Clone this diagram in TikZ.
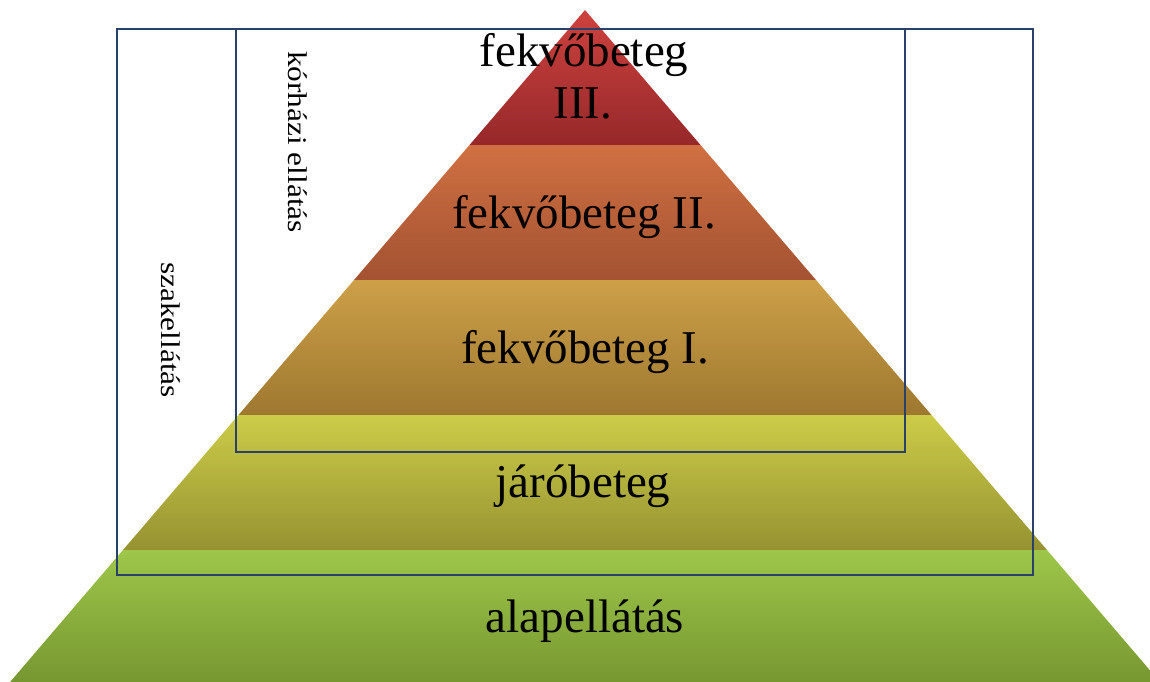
\documentclass[tikz,border=0pt]{standalone}
\usepackage{fontspec}
\setmainfont{Liberation Serif}
\definecolor{redT}{RGB}{205,66,62}
\definecolor{redB}{RGB}{150,40,42}
\definecolor{oraT}{RGB}{208,112,66}
\definecolor{oraB}{RGB}{163,82,50}
\definecolor{tanT}{RGB}{205,160,72}
\definecolor{tanB}{RGB}{158,120,48}
\definecolor{yelT}{RGB}{204,204,72}
\definecolor{yelB}{RGB}{150,146,50}
\definecolor{grnT}{RGB}{158,198,74}
\definecolor{grnB}{RGB}{118,150,48}
\definecolor{frame}{RGB}{42,66,106}
\tikzset{
  band/.style={draw=none},
  box/.style={draw=frame, line width=2.7pt},
  lbl/.style={font=\fontsize{47}{52}\selectfont, anchor=base, inner sep=0pt, text=black},
  vlbl/.style={font=\fontsize{27}{30}\selectfont, rotate=-90, inner sep=0pt}
}
\begin{document}
\begin{tikzpicture}[x=1pt,y=-1pt]
\useasboundingbox (0,0) rectangle (1150,681);
\begin{scope}
\clip (0,0) rectangle (1150,681);
\path[band, top color=redT, bottom color=redB] (585,10) -- (700.5,145) -- (469.5,145) -- cycle;
\path[band, top color=oraT, bottom color=oraB] (469.5,145) -- (700.5,145) -- (816,280) -- (354,280) -- cycle;
\path[band, top color=tanT, bottom color=tanB] (354,280) -- (816,280) -- (931.5,415) -- (238.5,415) -- cycle;
\path[band, top color=yelT, bottom color=yelB] (238.5,415) -- (931.5,415) -- (1047,550) -- (123,550) -- cycle;
\path[band, top color=grnT, bottom color=grnB] (123,550) -- (1047,550) -- (1162.5,685) -- (7.5,685) -- cycle;
\end{scope}
\draw[box] (117,29) rectangle (1033,575);
\draw[box] (236,29) rectangle (905,452);
\node[lbl] (l3a) at (584,66) {fekvőbeteg};
\node[lbl] (l3b) at (583,118) {III.};
\node[lbl] (l2) at (584,228) {fekvőbeteg II.};
\node[lbl] (l1) at (585,363) {fekvőbeteg I.};
\node[lbl] (lj) at (583,497) {járóbeteg};
\node[lbl] (la) at (585,632) {alapellátás};
\node[vlbl] (kh) at (298,142) {\scalebox{1.16}[1]{kórházi ellátás}};
\node[vlbl] (sz) at (171,330) {\scalebox{1.16}[1]{szakellátás}};
\end{tikzpicture}
\end{document}
